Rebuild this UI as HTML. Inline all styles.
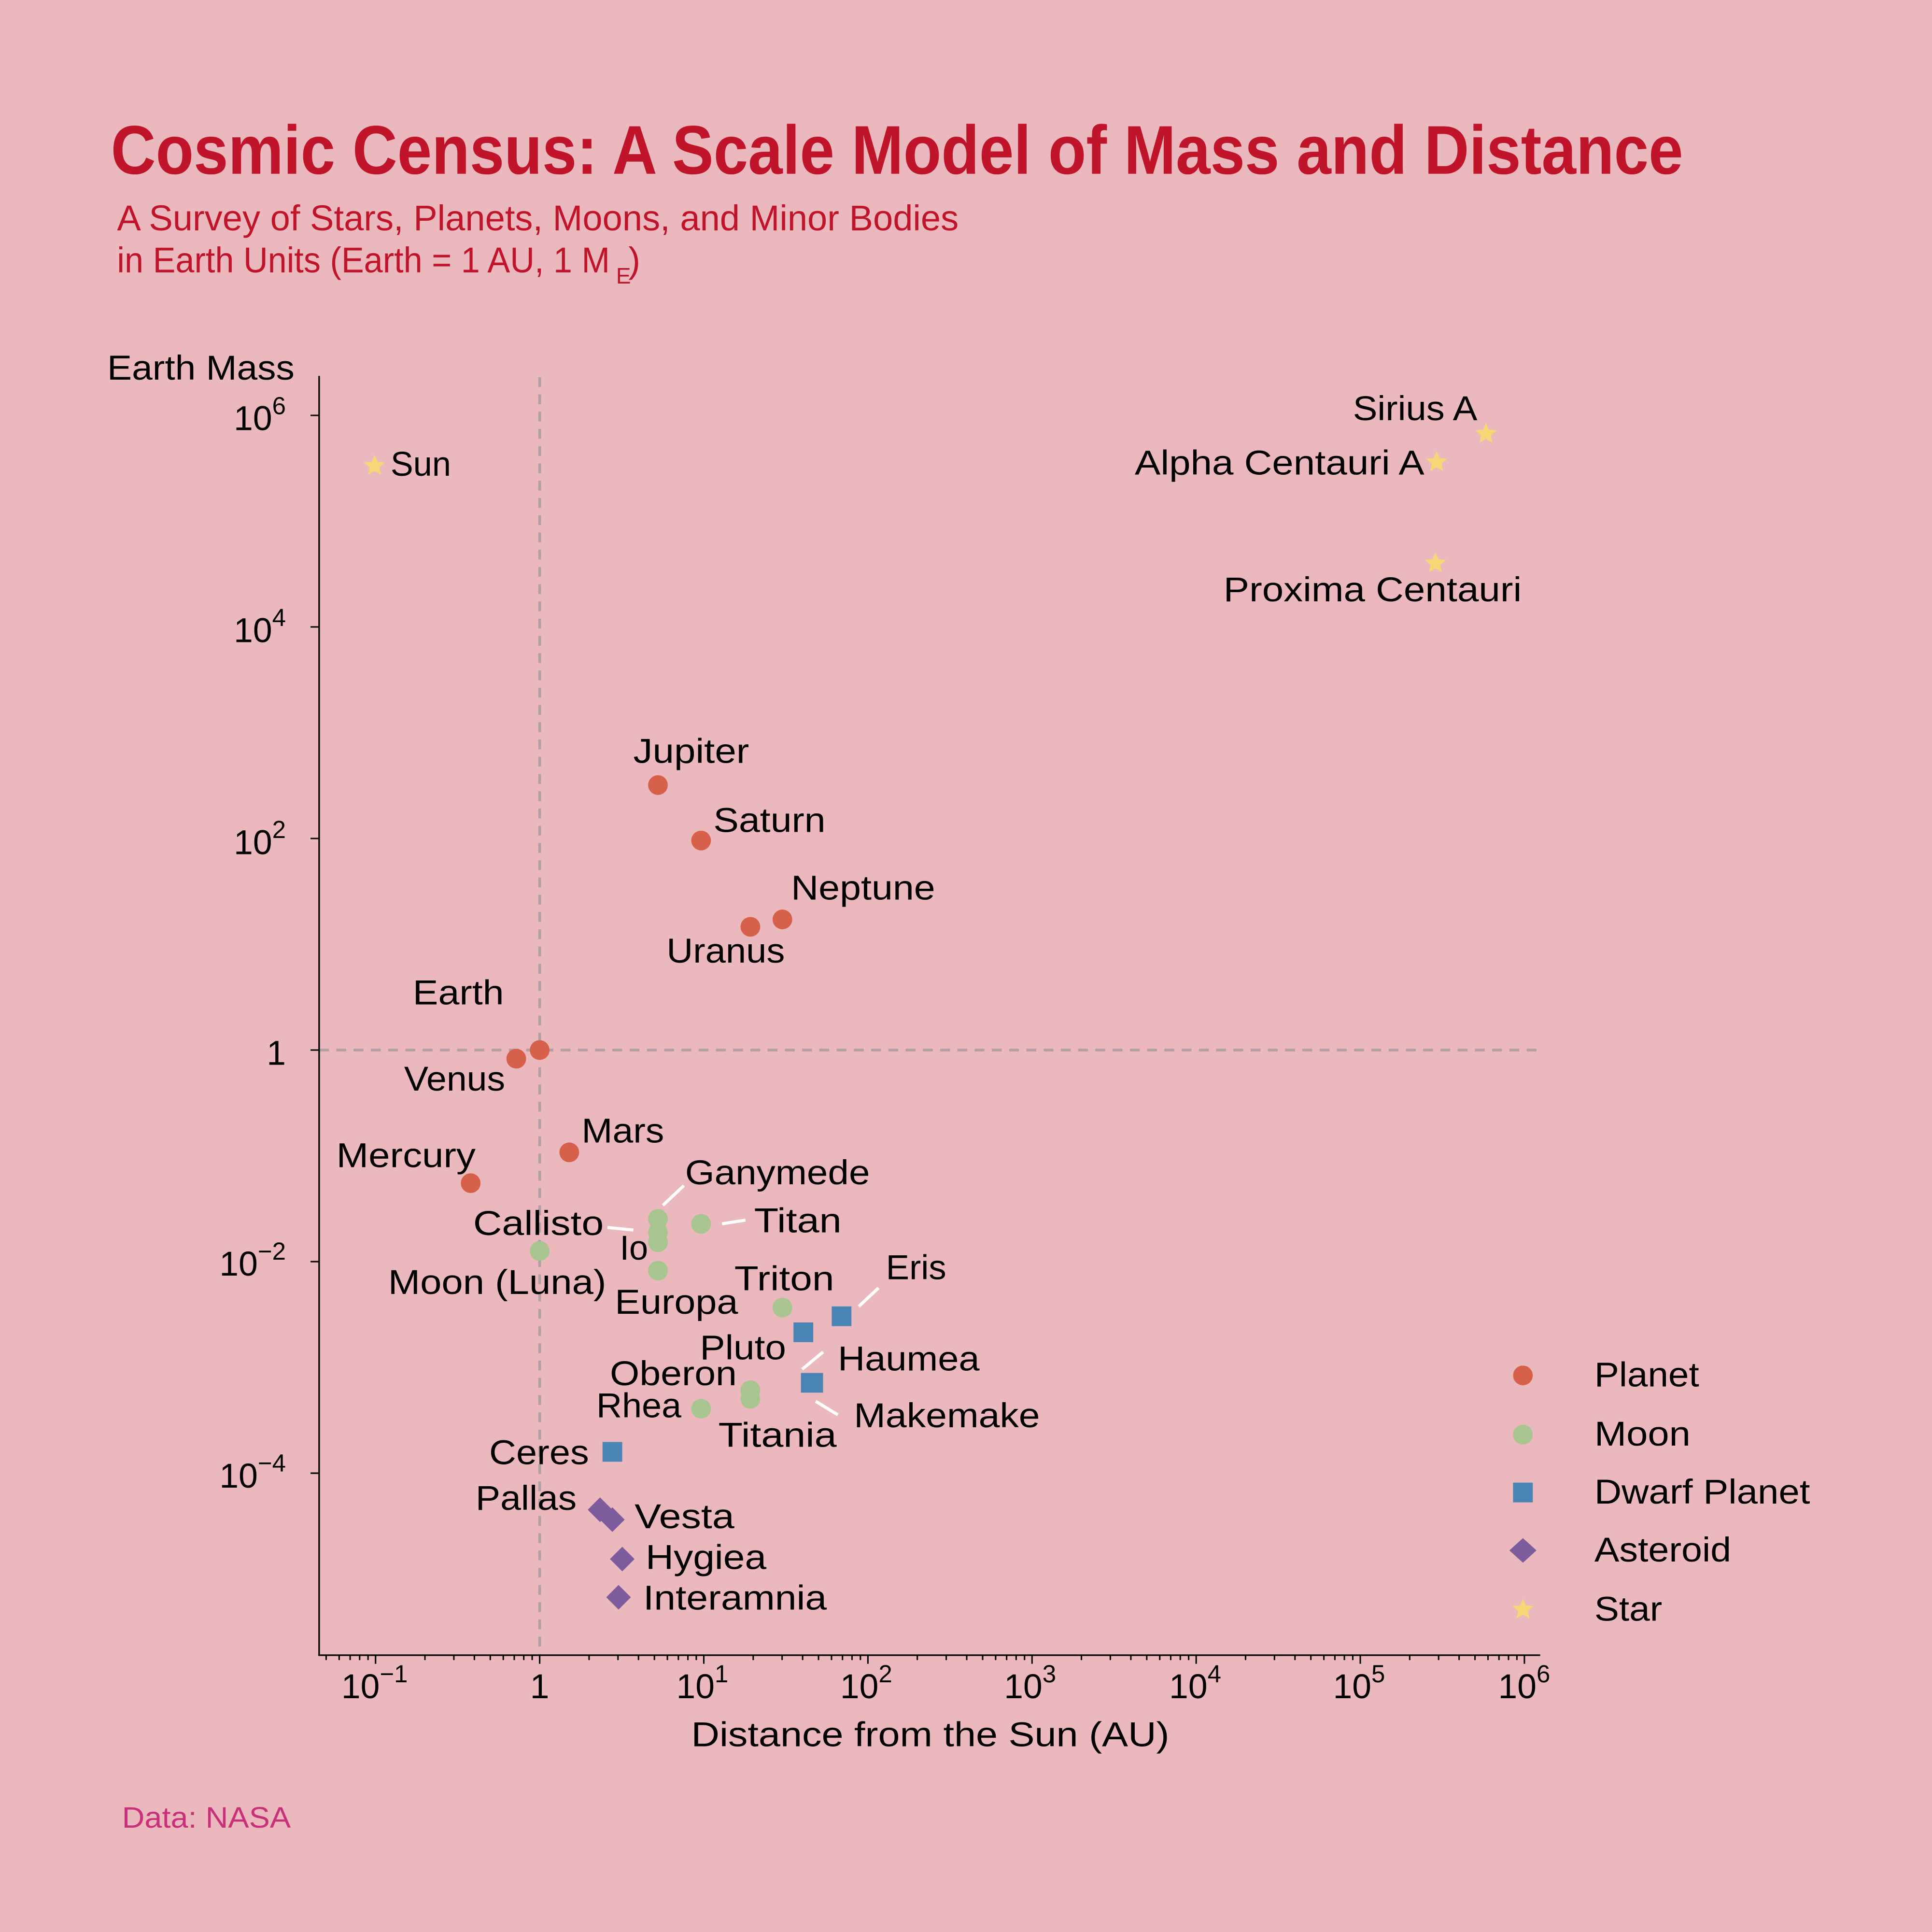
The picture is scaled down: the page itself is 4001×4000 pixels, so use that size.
<!DOCTYPE html>
<html><head><meta charset="utf-8"><style>
html,body{margin:0;padding:0;background:#ebb8bd;}
svg{display:block;}
text{font-family:"Liberation Sans",sans-serif;}
</style></head><body>
<svg id="s" width="4001" height="4000" viewBox="0 0 1568 1567.6" xmlns="http://www.w3.org/2000/svg">
<rect width="1568" height="1568" fill="#ebb8bd"/>
<text x="90" y="141" font-size="56" font-weight="bold" fill="#c0142a" textLength="1276" lengthAdjust="spacingAndGlyphs">Cosmic Census: A Scale Model of Mass and Distance</text>
<text x="95" y="187" font-size="29" fill="#c0142a" textLength="683" lengthAdjust="spacingAndGlyphs">A Survey of Stars, Planets, Moons, and Minor Bodies</text>
<text x="95" y="221" font-size="29" fill="#c0142a" textLength="400" lengthAdjust="spacingAndGlyphs">in Earth Units (Earth = 1 AU, 1 M</text>
<text x="500" y="230" font-size="18" fill="#c0142a">E</text>
<text x="510" y="221" font-size="29" fill="#c0142a">)</text>

<line x1="438" y1="306" x2="438" y2="1343" stroke="#b0a0a2" stroke-width="2.2" stroke-dasharray="8,6"/>
<line x1="259" y1="852" x2="1250" y2="852" stroke="#b0a0a2" stroke-width="2.2" stroke-dasharray="8,6"/>

<line x1="259" y1="305" x2="259" y2="1343.5" stroke="#000" stroke-width="1.3"/>
<line x1="258.4" y1="1343" x2="1250" y2="1343" stroke="#000" stroke-width="1.3"/>
<g id="ticks" stroke="#000" stroke-width="1.2"></g>

<g font-size="28" fill="#000">
<text x="87" y="308" textLength="152" lengthAdjust="spacingAndGlyphs">Earth Mass</text>
<g text-anchor="end">
<text x="232" y="349">10<tspan font-size="20" dy="-13">6</tspan></text>
<text x="232" y="521">10<tspan font-size="20" dy="-13">4</tspan></text>
<text x="232" y="693">10<tspan font-size="20" dy="-13">2</tspan></text>
<text x="232" y="864">1</text>
<text x="232" y="1035">10<tspan font-size="20" dy="-13">−2</tspan></text>
<text x="232" y="1207">10<tspan font-size="20" dy="-13">−4</tspan></text>
</g>
<g text-anchor="middle">
<text x="304" y="1378">10<tspan font-size="20" dy="-13">−1</tspan></text>
<text x="438" y="1378">1</text>
<text x="570" y="1378">10<tspan font-size="20" dy="-13">1</tspan></text>
<text x="703" y="1378">10<tspan font-size="20" dy="-13">2</tspan></text>
<text x="836" y="1378">10<tspan font-size="20" dy="-13">3</tspan></text>
<text x="970" y="1378">10<tspan font-size="20" dy="-13">4</tspan></text>
<text x="1103" y="1378">10<tspan font-size="20" dy="-13">5</tspan></text>
<text x="1237" y="1378">10<tspan font-size="20" dy="-13">6</tspan></text>
</g>
<text x="561" y="1417" textLength="388" lengthAdjust="spacingAndGlyphs">Distance from the Sun (AU)</text>
</g>
<text x="99" y="1483" font-size="24" fill="#c8307a" textLength="137" lengthAdjust="spacingAndGlyphs">Data: NASA</text>

<g stroke="#fff" stroke-width="2.5">
<line x1="538" y1="978" x2="555" y2="962"/>
<line x1="493" y1="996" x2="514" y2="998"/>
<line x1="586" y1="993" x2="605" y2="990"/>
<line x1="697" y1="1060" x2="713" y2="1045"/>
<line x1="651" y1="1111" x2="668" y2="1097"/>
<line x1="662" y1="1137" x2="680" y2="1148"/>
</g>

<g fill="#d6604a">
<circle cx="534" cy="637" r="8"/><circle cx="569" cy="682" r="8"/>
<circle cx="609" cy="752" r="8"/><circle cx="635" cy="746" r="8"/>
<circle cx="438" cy="852" r="8"/><circle cx="419" cy="859" r="8"/>
<circle cx="462" cy="935" r="8"/><circle cx="382" cy="960" r="8"/>
<circle cx="1236" cy="1116" r="8"/>
</g>
<g fill="#a8c48f">
<circle cx="438" cy="1015" r="8"/><circle cx="534" cy="989" r="8"/>
<circle cx="534" cy="1000" r="8"/><circle cx="534" cy="1008" r="8"/>
<circle cx="534" cy="1031" r="8"/><circle cx="569" cy="993" r="8"/>
<circle cx="635" cy="1061" r="8"/><circle cx="609" cy="1135" r="8"/>
<circle cx="609" cy="1128" r="8"/><circle cx="569" cy="1143" r="8"/>
<circle cx="1236" cy="1164" r="8"/>
</g>
<g fill="#4a84b5">
<rect x="644" y="1073" width="16" height="16"/><rect x="675" y="1060" width="16" height="16"/>
<rect x="650" y="1114" width="18" height="16"/><rect x="489" y="1170" width="16" height="16"/>
<rect x="1228" y="1203" width="16" height="16"/>
</g>
<g fill="#7d5c9e">
<polygon points="487,1215 497,1225 487,1235 477,1225"/>
<polygon points="497,1223 507,1233 497,1243 487,1233"/>
<polygon points="505,1255 515,1265 505,1275 495,1265"/>
<polygon points="502,1286 512,1296 502,1306 492,1296"/>
<polygon points="1236,1248 1247,1258 1236,1268 1225,1258"/>
</g>
<g fill="#f5d775" id="stars"></g>

<g font-size="28" fill="#000" lengthAdjust="spacingAndGlyphs">
<text x="317" y="386" textLength="49" lengthAdjust="spacingAndGlyphs">Sun</text>
<text x="1098" y="341" textLength="101" lengthAdjust="spacingAndGlyphs">Sirius A</text>
<text x="921" y="385" textLength="235" lengthAdjust="spacingAndGlyphs">Alpha Centauri A</text>
<text x="993" y="488" textLength="242" lengthAdjust="spacingAndGlyphs">Proxima Centauri</text>
<text x="514" y="619" textLength="94" lengthAdjust="spacingAndGlyphs">Jupiter</text>
<text x="579" y="675" textLength="91" lengthAdjust="spacingAndGlyphs">Saturn</text>
<text x="642" y="730" textLength="117" lengthAdjust="spacingAndGlyphs">Neptune</text>
<text x="541" y="781" textLength="96" lengthAdjust="spacingAndGlyphs">Uranus</text>
<text x="335" y="815" textLength="74" lengthAdjust="spacingAndGlyphs">Earth</text>
<text x="328" y="885" textLength="82" lengthAdjust="spacingAndGlyphs">Venus</text>
<text x="472" y="927" textLength="67" lengthAdjust="spacingAndGlyphs">Mars</text>
<text x="273" y="947" textLength="113" lengthAdjust="spacingAndGlyphs">Mercury</text>
<text x="556" y="961" textLength="150" lengthAdjust="spacingAndGlyphs">Ganymede</text>
<text x="612" y="1000" textLength="71" lengthAdjust="spacingAndGlyphs">Titan</text>
<text x="384" y="1002" textLength="106" lengthAdjust="spacingAndGlyphs">Callisto</text>
<text x="503" y="1022" textLength="23" lengthAdjust="spacingAndGlyphs">Io</text>
<text x="315" y="1050" textLength="177" lengthAdjust="spacingAndGlyphs">Moon (Luna)</text>
<text x="499" y="1066" textLength="100" lengthAdjust="spacingAndGlyphs">Europa</text>
<text x="596" y="1047" textLength="81" lengthAdjust="spacingAndGlyphs">Triton</text>
<text x="719" y="1038" textLength="49" lengthAdjust="spacingAndGlyphs">Eris</text>
<text x="568" y="1103" textLength="70" lengthAdjust="spacingAndGlyphs">Pluto</text>
<text x="680" y="1112" textLength="115" lengthAdjust="spacingAndGlyphs">Haumea</text>
<text x="495" y="1124" textLength="103" lengthAdjust="spacingAndGlyphs">Oberon</text>
<text x="484" y="1150" textLength="69" lengthAdjust="spacingAndGlyphs">Rhea</text>
<text x="693" y="1158" textLength="151" lengthAdjust="spacingAndGlyphs">Makemake</text>
<text x="583" y="1174" textLength="96" lengthAdjust="spacingAndGlyphs">Titania</text>
<text x="397" y="1188" textLength="81" lengthAdjust="spacingAndGlyphs">Ceres</text>
<text x="386" y="1225" textLength="82" lengthAdjust="spacingAndGlyphs">Pallas</text>
<text x="515" y="1240" textLength="81" lengthAdjust="spacingAndGlyphs">Vesta</text>
<text x="524" y="1273" textLength="98" lengthAdjust="spacingAndGlyphs">Hygiea</text>
<text x="522" y="1306" textLength="149" lengthAdjust="spacingAndGlyphs">Interamnia</text>
<text x="1294" y="1125" textLength="85" lengthAdjust="spacingAndGlyphs">Planet</text>
<text x="1294" y="1173" textLength="78" lengthAdjust="spacingAndGlyphs">Moon</text>
<text x="1294" y="1220" textLength="175" lengthAdjust="spacingAndGlyphs">Dwarf Planet</text>
<text x="1294" y="1267" textLength="111" lengthAdjust="spacingAndGlyphs">Asteroid</text>
<text x="1294" y="1315" textLength="55" lengthAdjust="spacingAndGlyphs">Star</text>
</g>
</svg>
<script>
var NS="http://www.w3.org/2000/svg",t=document.getElementById('ticks');
function ln(a,b,c,d){var l=document.createElementNS(NS,'line');l.setAttribute('x1',a);l.setAttribute('y1',b);l.setAttribute('x2',c);l.setAttribute('y2',d);t.appendChild(l);}
var x0=438,dx=133.2;
for(var k=-2;k<=6;k++){for(var j=1;j<=9;j++){var x=x0+dx*(k+Math.log10(j));if(x<260||x>1250)continue;if(j==1)ln(x,1343,x,1350);else ln(x,1343,x,1347);}}
var y0=852,dy=85.83;
for(var k=-4;k<=6;k+=2){var y=y0-dy*k;ln(252,y,259,y);}
var st=document.getElementById('stars');
function star(cx,cy,r){var p=[];for(var i=0;i<10;i++){var a=-Math.PI/2+i*Math.PI/5,rr=i%2?r*0.45:r;p.push((cx+rr*Math.cos(a)).toFixed(1)+','+(cy+rr*Math.sin(a)).toFixed(1));}var e=document.createElementNS(NS,'polygon');e.setAttribute('points',p.join(' '));st.appendChild(e);}
star(304,378,9);star(1206,352,9);star(1166,375,9);star(1165,457,9);star(1236,1306,9);
</script>
</body></html>
